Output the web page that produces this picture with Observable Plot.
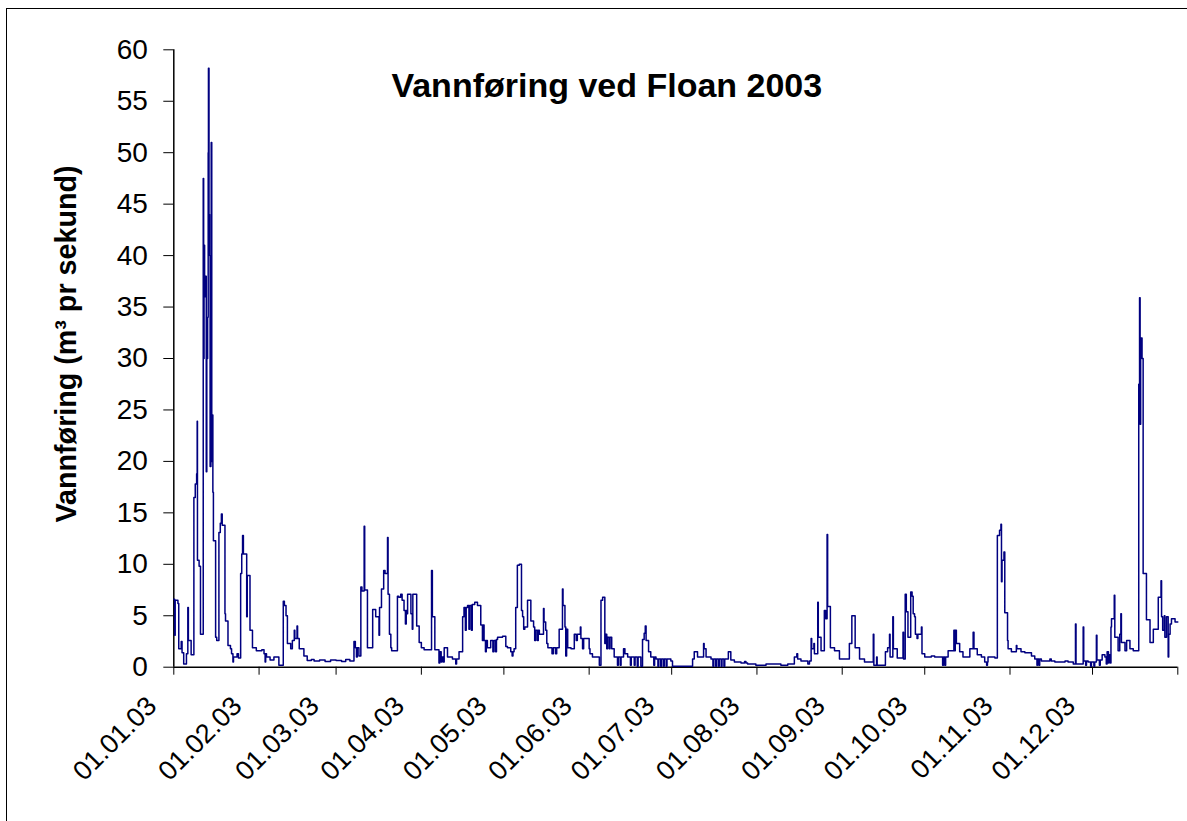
<!DOCTYPE html>
<html><head><meta charset="utf-8">
<script src="https://cdn.jsdelivr.net/npm/d3@7"></script>
<script src="https://cdn.jsdelivr.net/npm/@observablehq/plot@0.6"></script>
<style>
html,body{margin:0;padding:0;background:#fff;}
#wrap{position:relative;width:1187px;height:821px;overflow:hidden;}
#frame{position:absolute;left:5.5px;top:7.5px;width:1400px;height:1000px;border-left:1.5px solid #000;border-top:1.5px solid #000;}
#chart{position:absolute;left:0;top:0;}
</style></head><body>
<div id="wrap"><div id="frame"></div><div id="chart"></div></div>
<script>
const title = "Vannføring ved Floan 2003";
const yLabel = "Vannføring (m³ pr sekund)";
const monthTicks = ["2003-01-01","2003-02-01","2003-03-01","2003-04-01","2003-05-01","2003-06-01","2003-07-01","2003-08-01","2003-09-01","2003-10-01","2003-11-01","2003-12-01","2004-01-01"];
const tickLabels = ["01.01.03","01.02.03","01.03.03","01.04.03","01.05.03","01.06.03","01.07.03","01.08.03","01.09.03","01.10.03","01.11.03","01.12.03"];
const yTicks = [0,5,10,15,20,25,30,35,40,45,50,55,60];

// [day of month (decimal), flow m3/s] – readings where the step value changes
const jan = [[1.0,6.6],[1.3,3.1],[1.5,6.5],[2.5,6.2],[2.8,1.8],[3.7,2.5],[4.0,1.4],[4.6,0.3],[5.6,1.3],[6.1,5.8],[6.3,2.6],[7.3,1.2],[8.3,16.5],[8.8,17.8],[9.3,18.8],[9.5,23.9],[9.6,10.4],[10.2,9.8],[10.7,3.2],[11.7,47.5],[11.85,30],[12.0,41],[12.2,36],[12.5,38],[12.8,19],[13.0,30],[13.3,34],[13.5,50],[13.6,58.2],[13.8,44],[14.0,40],[14.2,19.5],[14.5,21],[14.6,51],[14.8,20],[15.0,24.5],[15.2,17],[15.4,12.3],[16.2,2.9],[16.6,2.6],[17.4,13.1],[17.9,14.0],[18.3,14.9],[18.6,13.8],[19.6,5.2],[19.8,4.5],[20.7,2.1],[21.6,1.8],[22.0,1.3],[22.5,0.5],[22.7,1.0],[24.0,1.3],[24.5,0.9],[25.3,9.1],[25.7,11.0],[26.0,12.8],[26.3,11.0],[27.5,4.9],[27.7,8.9],[28.7,3.6],[29.6,1.9],[31.0,1.6]];
const feb = [[1.0,1.6],[2.0,1.7],[2.8,1.3],[3.2,0.5],[3.4,1.3],[3.7,1.0],[5.0,0.7],[6.4,1.0],[8.2,0.2],[9.8,6.4],[10.2,6.0],[10.8,5.0],[11.3,2.3],[12.5,1.8],[13.1,2.6],[13.8,3.6],[14.0,2.8],[14.8,4.0],[15.0,2.8],[15.6,1.8],[17.3,1.1],[18.5,0.65],[20,0.75],[21,0.6],[23,0.7],[25,0.55],[27,0.7]];
const mar = [[1,0.65],[3,0.55],[4.5,0.75],[6,0.6],[7.5,2.5],[8.0,1.9],[8.4,1.0],[8.7,1.9],[9.3,1.1],[10.0,7.8],[10.4,7.4],[11.2,13.7],[11.4,7.5],[12.4,1.9],[14.3,5.6],[15.4,4.9],[16.6,3.1],[16.8,5.8],[17.5,7.6],[18.3,9.4],[18.8,9.1],[19.7,12.6],[19.9,7.1],[20.4,3.2],[20.9,1.9],[21.2,1.6],[23.3,6.9],[23.8,6.8],[24.5,7.1],[25.0,6.5],[25.7,5.5],[26.2,4.2],[26.5,5.5],[26.9,5.2],[27.0,7.1],[28.2,5.2],[28.7,3.7],[28.9,7.1],[30.3,4.0],[31.2,2.4]];
const apr = [[1.0,1.9],[2.0,1.7],[4.7,9.4],[5.0,4.9],[5.9,1.7],[7.4,0.4],[7.7,1.5],[8.2,0.5],[8.5,1.0],[9.0,0.5],[9.3,1.9],[10.5,1.0],[12.3,0.8],[13.5,0.3],[13.8,0.8],[14.7,1.5],[16.0,4.9],[16.5,5.8],[17.0,3.6],[17.3,5.8],[17.8,6.0],[18.3,3.7],[18.6,6.0],[19.2,3.6],[19.5,6.1],[20.4,6.3],[21.4,6.0],[22.6,4.1],[23.2,2.6],[23.5,4.1],[23.8,2.6],[24.3,1.5],[24.6,2.6],[25.0,1.9],[26.2,2.6],[27.0,1.5],[27.4,2.6],[28.0,1.5],[28.3,2.7],[28.7,2.9],[30.5,3.0]];
const may = [[1.7,2.0],[2.3,1.9],[3.5,1.5],[4.0,1.1],[4.3,1.5],[4.7,1.8],[5.3,5.8],[5.9,9.9],[6.6,10.0],[7.4,5.5],[7.8,4.9],[8.2,3.7],[8.6,3.9],[9.6,6.5],[10.8,4.5],[11.8,3.9],[12.2,2.6],[12.6,3.6],[13.2,2.6],[13.5,3.6],[13.9,3.2],[15.4,5.7],[15.6,4.4],[16.2,3.6],[16.6,2.3],[17.0,1.9],[18.5,1.3],[19.0,1.9],[19.8,1.3],[20.2,1.9],[21.1,3.7],[22.3,7.6],[22.5,6.0],[23.2,3.9],[23.5,1.1],[23.8,3.7],[24.2,1.9],[25.4,1.8],[26.6,3.2],[27.3,2.6],[27.7,3.2],[28.8,3.9],[29.0,2.8],[29.6,1.8],[30.0,2.8]];
const jun = [[1.0,1.8],[1.3,1.3],[2.2,1.0],[4.7,0.2],[5.3,6.5],[5.9,6.8],[6.7,2.3],[7.0,3.2],[7.4,1.8],[7.7,2.9],[8.3,1.8],[8.6,2.9],[9.2,1.8],[10.1,1.0],[11.3,0.2],[11.6,1.0],[12.3,0.2],[12.6,1.0],[13.5,1.8],[14.0,1.3],[15.0,1.0],[16.0,0.2],[16.3,1.0],[17.4,0.2],[17.7,1.0],[18.5,0.1],[18.8,1.0],[19.8,0.1],[20.4,2.7],[21.0,3.3],[21.4,4.0],[21.7,2.6],[22.6,1.5],[23.4,1.0],[24.5,0.2],[24.8,1.0],[25.3,0.8],[26.0,0.1],[26.3,0.8],[27.0,0.1],[27.3,0.8],[28.0,0.1],[28.3,0.8],[29.0,0.1],[29.3,0.8],[30.7,0.6]];
const jul = [[1.3,0.1],[8.6,0.8],[9.2,1.5],[10.4,1.0],[12.6,2.3],[12.8,1.8],[13.5,1.0],[15.3,0.8],[16.0,0.1],[16.3,0.8],[17.0,0.1],[17.3,0.8],[18.0,0.1],[18.3,0.8],[19.0,0.1],[19.3,0.8],[20.0,0.1],[20.3,0.8],[21.6,1.5],[22.5,0.7],[23.8,0.5],[26.2,0.4],[27.5,0.55],[28.0,0.4],[28.6,0.3],[31.6,0.2]];
const aug = [[4.3,0.3],[9.7,0.2],[12.2,0.3],[14.6,1.0],[15.5,1.3],[15.8,0.8],[17.0,0.6],[19.5,0.3],[20.1,0.6],[20.7,2.8],[20.9,1.8],[21.7,2.3],[21.9,1.3],[23.1,6.3],[23.3,2.9],[24.3,1.6],[25.5,5.5],[26.0,4.7],[26.5,12.9],[26.7,5.9],[27.7,1.9],[29.2,1.6],[31.0,0.8]];
const sep = [[3.6,2.3],[4.5,5.0],[5.7,1.9],[7.3,0.8],[9.1,0.5],[12.3,3.2],[12.5,0.2],[13.5,1.0],[13.7,0.2],[16.7,1.5],[17.5,1.9],[18.2,3.2],[18.4,1.0],[19.4,4.9],[19.6,1.8],[21.0,0.9],[23.1,3.4],[23.3,0.8],[23.9,7.1],[24.3,5.4],[24.9,2.9],[25.9,7.3],[26.4,6.9],[26.8,5.2],[27.3,4.9],[27.6,3.2],[28.2,2.8],[28.5,3.2],[29.8,3.9],[30.0,1.3]];
const oct = [[1.0,1.0],[3.4,1.1],[4.6,1.0],[7.5,0.2],[7.8,1.0],[8.3,0.2],[8.6,1.0],[9.5,1.6],[11.6,3.6],[11.9,1.6],[12.1,3.6],[12.5,2.3],[13.7,1.5],[14.9,1.0],[17.4,1.8],[18.6,3.4],[18.9,1.8],[20.1,1.2],[21.6,1.0],[22.8,0.5],[23.5,0.2],[23.8,0.5],[24.0,1.0],[26.5,0.9],[27.4,12.8],[28.2,13.3],[28.7,13.9],[28.9,8.3],[29.1,10.4],[29.8,11.2],[30.1,5.3],[31.1,2.6],[31.3,1.8]];
const nov = [[1.5,1.5],[3.3,2.1],[3.5,1.8],[5.0,1.5],[6.4,1.4],[8.8,1.1],[10.0,0.8],[10.8,0.2],[11.0,0.8],[11.5,0.2],[11.8,0.8],[12.4,0.6],[15.5,0.8],[16.0,0.6],[17.3,0.5],[21.0,0.6],[22.1,0.5],[24.0,0.3],[24.8,4.2],[25.0,0.3],[27.6,3.9],[27.8,0.6],[28.5,0.2],[28.8,0.6],[29.4,0.5],[30.3,0.1],[30.6,0.5]];
const dec = [[1.5,0.1],[1.8,0.5],[2.4,3.1],[2.6,0.7],[3.5,0.2],[3.8,0.7],[4.5,1.2],[5.5,1.0],[6.0,0.3],[6.3,1.5],[6.8,0.4],[7.0,1.2],[7.5,0.4],[7.7,3.9],[7.9,4.7],[8.9,7.0],[9.1,2.9],[10.3,1.6],[10.9,3.2],[11.3,5.2],[11.5,2.4],[12.8,1.6],[13.4,2.6],[14.6,1.8],[15.8,1.6],[17.8,27.5],[18.1,35.9],[18.3,23.6],[18.5,32],[19.0,30],[19.4,9.1],[20.6,4.6],[21.9,2.4],[23.1,3.7],[24.9,6.8],[25.9,8.4],[26.1,4.9],[26.5,3.6],[27.1,5.0],[27.3,2.9],[27.9,4.9],[28.5,1.0],[28.7,3.2],[29.2,4.2],[29.7,4.7],[31.0,4.4],[32.0,4.4]];

const months = [jan,feb,mar,apr,may,jun,jul,aug,sep,oct,nov,dec];
const data = months.flatMap((arr, m) => arr.map(([d, v]) => ({date: new Date(Date.UTC(2003, m, 1) + (d - 1) * 864e5), flow: v})));
const tickDates = monthTicks.map(s => new Date(s + "T00:00:00Z"));
const labelData = tickLabels.map((t, i) => ({date: tickDates[i], label: t}));

const chart = Plot.plot({
  width: 1187, height: 821,
  marginLeft: 173.3, marginRight: 9.7, marginTop: 49.3, marginBottom: 154.3,
  style: {fontFamily: "'Liberation Sans', Arial, sans-serif", fontSize: "27px", background: "transparent", color: "#000"},
  x: {type: "utc", domain: [tickDates[0], tickDates[12]]},
  y: {domain: [0, 60]},
  marks: [
    Plot.axisY({ticks: yTicks, tickSize: 10, tickPadding: 16, label: null, fontSize: 28}),
    Plot.axisX({ticks: tickDates, tickSize: 8, tickFormat: () => "", label: null}),
    Plot.ruleX([tickDates[0]], {stroke: "#000", strokeWidth: 1.5}),
    Plot.ruleY([0], {stroke: "#000", strokeWidth: 1.5}),
    Plot.line(data, {x: "date", y: "flow", curve: "step-after", stroke: "#000080", strokeWidth: 1.5}),
    Plot.text(labelData, {x: "date", text: "label", frameAnchor: "bottom", rotate: -45, textAnchor: "end", lineAnchor: "middle", dx: -21.7, dy: 34.4, fontSize: 27, fill: "#000"}),
    Plot.text([title], {text: d => d, frameAnchor: "top", dx: -69, dy: 36, fontSize: 34, fontWeight: "bold", lineAnchor: "middle", fill: "#000"}),
    Plot.text([yLabel], {text: d => d, frameAnchor: "left", rotate: -90, dx: -107, dy: -14.5, fontSize: 28.7, fontWeight: "bold", textAnchor: "middle", lineAnchor: "middle", fill: "#000"})
  ]
});
document.getElementById("chart").appendChild(chart);
</script>
</body></html>
